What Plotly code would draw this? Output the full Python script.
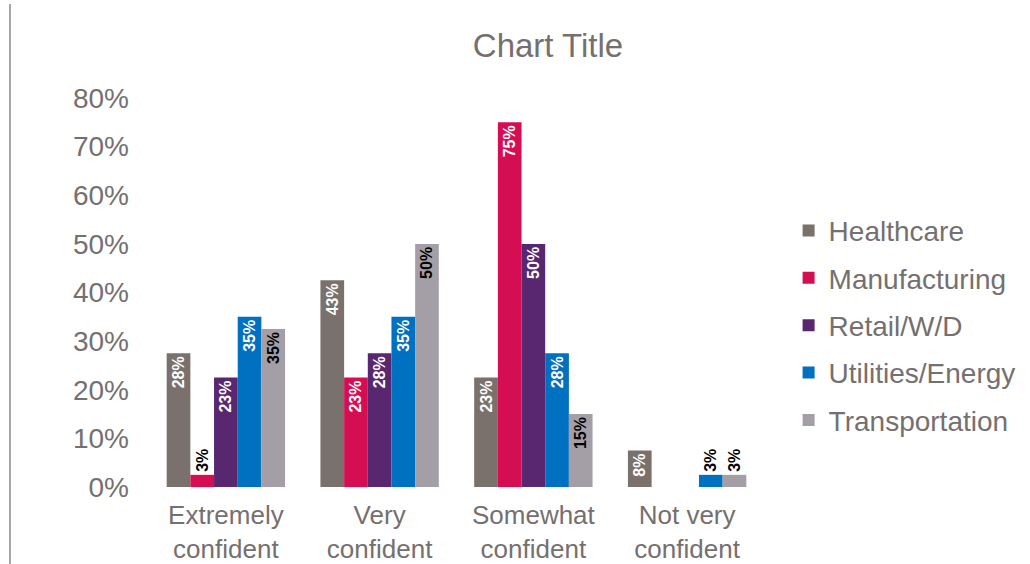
import plotly.graph_objects as go

categories = ["Extremely<br>confident", "Very<br>confident", "Somewhat<br>confident", "Not very<br>confident"]
series_names = ["Healthcare", "Manufacturing", "Retail/W/D", "Utilities/Energy", "Transportation"]

healthcare = [0.275, 0.425, 0.225, 0.075]
manufacturing = [0.025, 0.225, 0.75, 0.0]
retail = [0.225, 0.275, 0.50, 0.0]
utilities = [0.35, 0.35, 0.275, 0.025]
transportation = [0.325, 0.50, 0.15, 0.025]

healthcare_labels = ["28%", "43%", "23%", "8%"]
manufacturing_labels = ["3%", "23%", "75%", ""]
retail_labels = ["23%", "28%", "50%", ""]
utilities_labels = ["35%", "35%", "28%", "3%"]
transportation_labels = ["35%", "50%", "15%", "3%"]

colors = ["#7B716C", "#D50E54", "#582770", "#0070C0", "#A49FA6"]
inside_text_colors = ["white", "white", "white", "white", "black"]

series_values = [healthcare, manufacturing, retail, utilities, transportation]
series_labels = [healthcare_labels, manufacturing_labels, retail_labels, utilities_labels, transportation_labels]

FONT = "Liberation Sans, Arial, sans-serif"
GRAY = "#757070"

fig = go.Figure()
for name, vals, labs, col, tcol in zip(series_names, series_values, series_labels, colors, inside_text_colors):
    positions = ["outside" if v < 0.05 else "inside" for v in vals]
    fig.add_trace(go.Bar(
        name=name, x=categories, y=vals, text=labs,
        marker=dict(color=col, line=dict(width=0)),
        textposition=positions, textangle=-90, insidetextanchor="end",
        insidetextfont=dict(color=tcol, size=16, family=FONT, weight="bold"),
        outsidetextfont=dict(color="black", size=16, family=FONT, weight="bold"),
        cliponaxis=False, constraintext="none",
        legendgroup=name,
    ))

fig.update_layout(
    width=1030, height=564,
    margin=dict(l=149, r=266, t=98, b=77, autoexpand=False),
    paper_bgcolor="white", plot_bgcolor="white",
    barmode="group", bargap=0.23, bargroupgap=0,
    title=dict(text="Chart Title", x=(548 - 149) / 615, xref="paper", xanchor="center",
               y=1 - 45 / 564, yanchor="middle",
               font=dict(size=33, color=GRAY, family=FONT)),
    font=dict(family=FONT, color=GRAY),
    xaxis=dict(showgrid=False, showline=False, zeroline=False, ticklabelstandoff=10,
               automargin=False,
               tickfont=dict(size=26, color=GRAY, family=FONT)),
    yaxis=dict(range=[0, 0.8], tickformat=".0%", dtick=0.1, showgrid=False,
               showline=False, zeroline=False, ticklabelstandoff=19, automargin=False,
               tickfont=dict(size=28, color=GRAY, family=FONT)),
    legend=dict(x=1.04, xanchor="left", y=0.416, yanchor="middle",
                font=dict(size=28, color=GRAY, family=FONT),
                tracegroupgap=8, itemwidth=30, bgcolor="rgba(0,0,0,0)"),
    uniformtext=dict(mode=False),
)

fig.add_shape(type="line", xref="paper", yref="paper",
              x0=(10 - 149) / 615, x1=(10 - 149) / 615,
              y0=(487 - 4) / 389, y1=(487 - 564) / 389,
              line=dict(color="#A9A4A8", width=2))

fig.write_html("out.html")
